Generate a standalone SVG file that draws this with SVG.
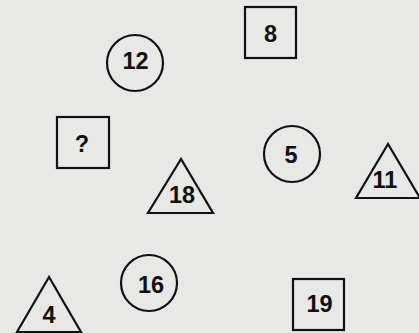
<svg xmlns="http://www.w3.org/2000/svg" width="419" height="333" viewBox="0 0 419 333">
<style>
.s{fill:none;stroke:#111;stroke-width:2.2;stroke-linejoin:miter}
.t{font-family:"Liberation Sans",Arial,sans-serif;font-weight:bold;font-size:23.5px;fill:#111;text-anchor:middle}
</style>
<rect width="419" height="333" fill="#e8e8e6"/>
<g id="connectors"/>
<g id="sq8"><rect class="s" x="245" y="7" width="51" height="51"/><text class="t" x="270.5" y="42">8</text></g>
<g id="c12"><circle class="s" cx="135" cy="63" r="28"/><text class="t" x="135.5" y="69">12</text></g>
<g id="sqq"><rect class="s" x="57" y="117" width="52" height="51"/><text class="t" x="82" y="152">?</text></g>
<g id="t18"><polygon class="s" points="181,159 148,213 213,213"/><text class="t" x="182" y="203">18</text></g>
<g id="c5"><circle class="s" cx="292" cy="154" r="28"/><text class="t" x="291" y="163">5</text></g>
<g id="t11"><polygon class="s" points="388,144 356,198 420,198"/><text class="t" x="385" y="188">11</text></g>
<g id="t4"><polygon class="s" points="49,277 17,332 81,332"/><text class="t" x="49" y="323">4</text></g>
<g id="c16"><circle class="s" cx="149" cy="283" r="28"/><text class="t" x="151" y="293">16</text></g>
<g id="sq19"><rect class="s" x="293" y="279" width="51" height="51"/><text class="t" x="319.5" y="312">19</text></g>
</svg>
